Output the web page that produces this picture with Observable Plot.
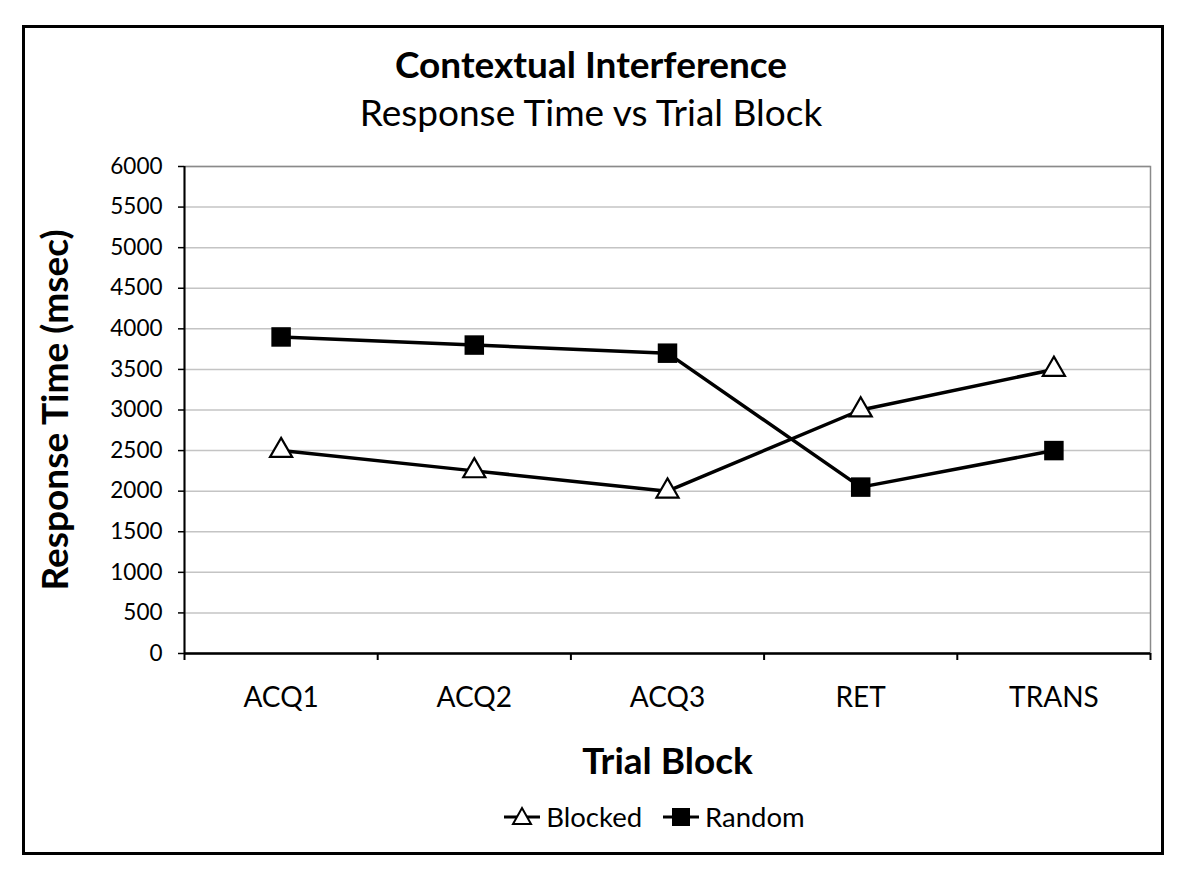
<!DOCTYPE html>
<html>
<head>
<meta charset="utf-8">
<script src="https://cdn.jsdelivr.net/npm/d3@7"></script>
<script src="https://cdn.jsdelivr.net/npm/@observablehq/plot@0.6"></script>
<style>
  html, body { margin: 0; padding: 0; background: #fff; }
  body { width: 1192px; height: 892px; position: relative; font-family: Lato, "Open Sans", sans-serif; color: #000; overflow: hidden; }
  #box { position: absolute; left: 22px; top: 25px; width: 1142px; height: 830px; border: 3px solid #000; box-sizing: border-box; }
  .ttl { position: absolute; left: 0; width: 1182px; text-align: center; line-height: 1.2; white-space: nowrap; }
  #title { top: 42px; font-size: 37px; font-weight: bold; }
  #subtitle { top: 90px; font-size: 37px; }
  #chart { position: absolute; left: 0; top: 140px; }
  #legend { position: absolute; left: 0; width: 1192px; top: 800px; display: flex; justify-content: center; gap: 20px; font-size: 27.5px; line-height: 1.2; padding-left: 116px; box-sizing: border-box; }
  .item { display: flex; align-items: center; gap: 5px; }
</style>
</head>
<body>
<div id="box"></div>
<div id="title" class="ttl">Contextual Interference</div>
<div id="subtitle" class="ttl">Response Time vs Trial Block</div>
<div id="chart"></div>
<div id="legend"></div>
<script>
// ---- data ----
const categories = ["ACQ1", "ACQ2", "ACQ3", "RET", "TRANS"];
const seriesNames = ["Blocked", "Random"];
const blocked = [2500, 2250, 2000, 3000, 3500];
const random = [3900, 3800, 3700, 2050, 2500];
const yTicks = [0, 500, 1000, 1500, 2000, 2500, 3000, 3500, 4000, 4500, 5000, 5500, 6000];
const yTitle = "Response Time (msec)";
const xTitle = "Trial Block";

const rows = [];
categories.forEach((c, i) => {
  rows.push({i, c, series: seriesNames[0], v: blocked[i]});
  rows.push({i, c, series: seriesNames[1], v: random[i]});
});
const catIndex = categories.map((c, i) => i);
const boundaries = [-0.5, ...catIndex.map(i => i + 0.5)];

const plot = Plot.plot({
  width: 1192,
  height: 650,
  marginLeft: 184,
  marginRight: 42,
  marginTop: 26,
  marginBottom: 137,
  style: {fontFamily: "Lato, 'Open Sans', sans-serif", color: "#000", background: "transparent"},
  x: {type: "linear", domain: [-0.5, categories.length - 0.5]},
  y: {domain: [0, 6000]},
  marks: [
    Plot.gridY(yTicks, {stroke: "#c4c4c4", strokeOpacity: 1, strokeWidth: 1.5}),
    Plot.frame({stroke: "#8a8a8a", strokeWidth: 1.5}),
    Plot.axisY(yTicks, {tickSize: 6, tickPadding: 16, fontSize: 22.5, tickFormat: d => String(d), strokeWidth: 1.5, label: null}),
    Plot.axisX(boundaries, {tickSize: 7, tickFormat: () => "", strokeWidth: 2, label: null}),
    Plot.axisX(catIndex, {tickSize: 0, tickPadding: 34, fontSize: 28, tickFormat: i => categories[i], label: null}),
    Plot.ruleX([-0.5], {stroke: "#000", strokeWidth: 2}),
    Plot.ruleY([0], {stroke: "#000", strokeWidth: 2.5}),
    Plot.line(rows, {x: "i", y: "v", z: "series", stroke: "#000", strokeWidth: 3.5}),
    Plot.dot(rows.filter(d => d.series === seriesNames[0]), {x: "i", y: "v", symbol: "triangle", r: 8.2, fill: "#fff", stroke: "#000", strokeWidth: 2.2}),
    Plot.dot(rows.filter(d => d.series === seriesNames[1]), {x: "i", y: "v", symbol: "square", r: 11, fill: "#000", stroke: "none"}),
    Plot.text([yTitle], {frameAnchor: "left", textAnchor: "middle", rotate: -90, dx: -128, fontSize: 37, fontWeight: "bold", fill: "#000"}),
    Plot.text([xTitle], {frameAnchor: "bottom", textAnchor: "middle", dy: 120, fontSize: 37, fontWeight: "bold", fill: "#000"})
  ]
});
document.getElementById("chart").appendChild(plot);

// legend
const legend = document.getElementById("legend");
const swatch = {
  Blocked: `<svg width="38" height="24" viewBox="-19 -12 38 24"><line x1="-18" x2="18" y1="0" y2="0" stroke="#000" stroke-width="3"/><path d="M0,-9 L9,7 L-9,7 Z" fill="#fff" stroke="#000" stroke-width="2"/></svg>`,
  Random: `<svg width="38" height="24" viewBox="-19 -12 38 24"><line x1="-18" x2="18" y1="0" y2="0" stroke="#000" stroke-width="3"/><rect x="-9" y="-9" width="18" height="18" fill="#000"/></svg>`
};
seriesNames.forEach(s => {
  const el = document.createElement("div");
  el.className = "item";
  el.innerHTML = swatch[s] + `<span>${s}</span>`;
  legend.appendChild(el);
});
</script>
</body>
</html>
